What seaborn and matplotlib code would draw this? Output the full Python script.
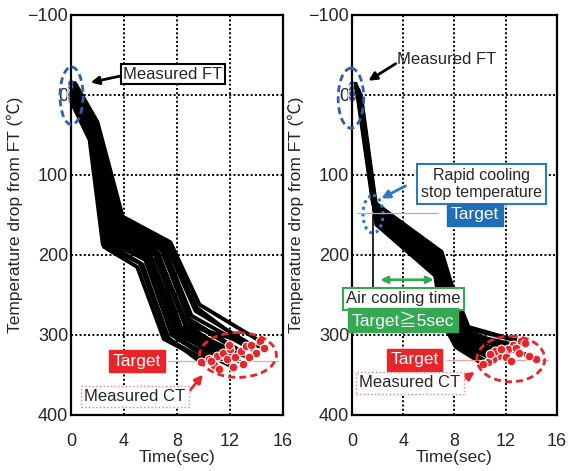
import numpy as np
import pandas as pd
import seaborn as sns
import matplotlib
matplotlib.use("Agg")
from matplotlib import pyplot as plt
from matplotlib.patches import Ellipse

# ---- data: time (sec) and temperature drop from FT (C) ----
# left panel: conventional cooling, one row per coil
left_t = [
    [0.0, 1.4, 2.4, 5.2, 7.2, 9.8],
    [0.1, 1.5, 2.5, 5.0, 7.0, 10.8],
    [0.1, 1.5, 2.5, 5.6, 7.6, 10.4],
    [0.1, 1.5, 2.6, 5.4, 7.4, 11.2],
    [0.1, 1.6, 2.6, 5.8, 7.8, 11.0],
    [0.2, 1.6, 2.9, 6.2, 8.0, 12.2],
    [0.2, 1.6, 2.8, 6.0, 8.1, 11.5],
    [0.2, 1.7, 2.9, 6.0, 7.9, 10.6],
    [0.2, 1.7, 3.0, 6.3, 8.3, 12.0],
    [0.2, 1.7, 3.1, 6.4, 8.4, 11.8],
    [0.2, 1.8, 3.2, 6.5, 8.6, 12.4],
    [0.2, 1.8, 3.2, 6.6, 8.7, 13.0],
    [0.3, 1.8, 3.3, 6.8, 8.9, 12.8],
    [0.3, 1.8, 3.4, 6.9, 9.0, 11.9],
    [0.3, 1.9, 3.5, 7.0, 9.1, 13.2],
    [0.3, 1.9, 3.6, 7.2, 9.4, 13.6],
    [0.3, 1.9, 3.7, 7.3, 9.5, 14.0],
    [0.3, 2.0, 3.9, 7.5, 9.7, 14.3],
    [0.1, 1.6, 2.7, 5.9, 8.2, 13.4],
    [0.2, 1.7, 3.0, 6.6, 8.8, 14.6],
]
left_T = [
    [8, 56, 187, 210, 302, 334],
    [6, 54, 190, 215, 305, 338],
    [4, 52, 180, 206, 300, 330],
    [5, 50, 184, 212, 306, 342],
    [2, 48, 175, 203, 296, 326],
    [0, 46, 176, 206, 305, 340],
    [0, 45, 168, 200, 292, 322],
    [-2, 44, 172, 204, 300, 333],
    [-3, 42, 170, 198, 290, 318],
    [-4, 41, 168, 200, 296, 330],
    [-5, 40, 165, 196, 286, 327],
    [-6, 39, 163, 198, 292, 336],
    [-7, 38, 162, 193, 280, 320],
    [-7, 37, 160, 195, 284, 312],
    [-8, 36, 158, 190, 276, 314],
    [-10, 35, 156, 188, 270, 312],
    [-11, 35, 154, 186, 266, 322],
    [-15, 34, 152, 184, 262, 308],
    [3, 47, 178, 205, 298, 328],
    [-1, 43, 170, 201, 288, 316],
]
# right panel: rapid cooling + air cooling
right_t = [
    [0.3, 1.6, 6.8, 7.6, 9.0, 13.2],
    [0.4, 1.7, 6.8, 7.7, 9.2, 14.4],
    [0.4, 1.7, 6.7, 7.6, 8.8, 12.6],
    [0.5, 1.8, 6.7, 7.5, 8.7, 12.2],
    [0.5, 1.8, 6.6, 7.4, 8.5, 11.8],
    [0.5, 1.8, 6.6, 7.3, 8.4, 11.4],
    [0.6, 1.9, 6.6, 7.2, 8.3, 11.0],
    [0.6, 1.9, 6.5, 7.1, 8.2, 10.6],
    [0.6, 1.9, 6.5, 7.0, 8.1, 10.2],
    [0.7, 2.0, 6.6, 7.3, 8.6, 12.8],
    [0.5, 1.8, 6.9, 7.8, 9.0, 13.8],
    [0.4, 1.7, 7.0, 7.8, 9.1, 13.5],
    [0.5, 1.8, 6.8, 7.5, 8.8, 12.0],
    [0.6, 1.9, 6.7, 7.3, 8.4, 11.2],
    [0.6, 2.0, 6.6, 7.2, 8.3, 12.4],
    [0.7, 2.0, 6.5, 7.1, 8.2, 11.6],
    [0.5, 1.7, 6.9, 7.7, 9.0, 13.0],
    [0.6, 1.8, 6.7, 7.4, 8.6, 10.8],
]
right_T = [
    [-14, 132, 198, 240, 292, 308],
    [-10, 136, 200, 245, 296, 330],
    [-8, 138, 203, 250, 298, 312],
    [-6, 142, 206, 255, 300, 318],
    [-4, 146, 210, 260, 303, 322],
    [-2, 150, 214, 265, 306, 326],
    [0, 154, 218, 270, 310, 330],
    [2, 158, 222, 276, 312, 334],
    [4, 162, 226, 282, 315, 336],
    [0, 152, 212, 262, 302, 316],
    [-6, 144, 204, 248, 300, 326],
    [-9, 134, 196, 238, 290, 310],
    [-5, 140, 205, 252, 301, 328],
    [-1, 148, 212, 264, 306, 320],
    [1, 156, 216, 268, 308, 332],
    [3, 160, 220, 274, 311, 318],
    [-7, 137, 201, 246, 297, 322],
    [-3, 147, 209, 258, 304, 324],
]
x_ticks = [0, 4, 8, 12, 16]
y_ticks = [-100, 0, 100, 200, 300, 400]

RED = "#e8262a"
BLUE = "#2f5fb0"
LBLUE = "#2e78c0"
GREEN = "#34a853"

sns.set_style("white")
plt.rcParams["font.family"] = ["Liberation Sans", "Noto Sans CJK JP", "DejaVu Sans"]


def to_frame(ts, Ts):
    rows = []
    for i, (tt, TT) in enumerate(zip(ts, Ts)):
        for a, b in zip(tt, TT):
            rows.append((i, a, b))
    return pd.DataFrame(rows, columns=["run", "t", "T"])


def draw_panel(ax, ts, Ts):
    df = to_frame(ts, Ts)
    sns.lineplot(data=df, x="t", y="T", units="run", estimator=None, sort=False,
                 color="black", lw=2.8, legend=False, ax=ax, zorder=3)
    starts = df.groupby("run").first()
    ends = df.groupby("run").last()
    sns.scatterplot(x=np.zeros(len(starts)), y=starts["T"].values, color=BLUE,
                    edgecolor="white", s=28, ax=ax, zorder=2, clip_on=False)
    sns.scatterplot(x=ends["t"].values, y=ends["T"].values, color=RED,
                    edgecolor="white", linewidth=0.8, s=40, ax=ax, zorder=4)
    ax.set_xlim(0, 16)
    ax.set_ylim(400, -100)
    ax.set_xticks(x_ticks)
    ax.set_yticks(y_ticks)
    ax.grid(True, color="black", linestyle=(0, (1, 1.2)), lw=1.4)
    for s in ax.spines.values():
        s.set_color("black")
        s.set_linewidth(1.6)
    ax.tick_params(direction="in", length=4, width=1.2, labelsize=13)
    ax.tick_params(axis="x", pad=13)
    ax.tick_params(axis="y", pad=2)
    ax.set_xlabel("Time(sec)", fontsize=12.5, labelpad=0)
    ax.set_ylabel("Temperature drop from FT (℃)", fontsize=12.5, labelpad=3)


fig = plt.figure(figsize=(5.74, 4.71), dpi=100)
ax1 = fig.add_axes([0.1237, 0.1189, 0.3693, 0.8493])
ax2 = fig.add_axes([0.6132, 0.1189, 0.3571, 0.8493])
draw_panel(ax1, left_t, left_T)
draw_panel(ax2, right_t, right_T)

# ---- left panel annotations ----
ax1.add_patch(Ellipse((0.04, 1), 1.74, 72, fill=False, ec=BLUE, lw=2,
                      ls=(0, (2.5, 1.5)), clip_on=False, zorder=5))
ax1.annotate("", xy=(1.28, -15), xytext=(4.1, -25),
             arrowprops=dict(arrowstyle="-|>", color="black", lw=2, mutation_scale=12))
ax1.text(7.7, -26, "Measured FT", ha="center", va="center", fontsize=12, zorder=6,
         bbox=dict(boxstyle="square,pad=0.15", fc="white", ec="black", lw=1.5))
ax1.plot([7.3, 15.6], [332, 332], color="#f4a0a0", lw=0.9, zorder=3, clip_on=False)
ax1.text(4.98, 333, "Target", ha="center", va="center", fontsize=12.5, color="white",
         zorder=6, bbox=dict(boxstyle="square,pad=0.2", fc=RED, ec=RED))
ax1.add_patch(Ellipse((12.6, 325), 5.8, 56, fill=False, ec=RED, lw=2,
                      ls=(0, (2.5, 1.5)), zorder=5, clip_on=False))
ax1.text(4.83, 377, "Measured CT", ha="center", va="center", fontsize=12, zorder=6,
         bbox=dict(boxstyle="square,pad=0.2", fc="white", ec="#f08080", lw=1, ls=":"))
ax1.annotate("", xy=(10.1, 347), xytext=(8.83, 372),
             arrowprops=dict(arrowstyle="-|>", color=RED, lw=2, mutation_scale=12))

# ---- right panel annotations ----
ax2.add_patch(Ellipse((-0.08, 4), 2.0, 75, fill=False, ec=BLUE, lw=2,
                      ls=(0, (2.5, 1.5)), clip_on=False, zorder=5))
ax2.annotate("", xy=(1.1, -16), xytext=(3.6, -41),
             arrowprops=dict(arrowstyle="-|>", color="black", lw=2, mutation_scale=12))
ax2.text(7.4, -44, "Measured FT", ha="center", va="center", fontsize=12, zorder=6)
ax2.text(10.1, 111, "Rapid cooling\nstop temperature", ha="center", va="center",
         fontsize=11.5, linespacing=1.15, zorder=6,
         bbox=dict(boxstyle="square,pad=0.25", fc="white", ec=LBLUE, lw=1.5))
ax2.annotate("", xy=(2.1, 131), xytext=(4.37, 112),
             arrowprops=dict(arrowstyle="-|>", color=LBLUE, lw=2, mutation_scale=12))
ax2.add_patch(Ellipse((1.64, 149), 1.56, 47, fill=False, ec=LBLUE, lw=2.2,
                      ls=(0, (1, 1.2)), zorder=5))
ax2.plot([0.4, 6.7], [148, 148], color="#8fb8e0", lw=0.9, zorder=5)
ax2.text(9.6, 150, "Target", ha="center", va="center", fontsize=12.5, color="white",
         zorder=6, bbox=dict(boxstyle="square,pad=0.2", fc="#1f6fb8", ec="#1f6fb8"))
ax2.plot([1.65, 1.65], [150, 250], color="black", lw=1.2, zorder=2)
ax2.plot([6.6, 6.6], [222, 250], color="black", lw=1.2, zorder=2)
ax2.annotate("", xy=(6.6, 231), xytext=(2.0, 231),
             arrowprops=dict(arrowstyle="<|-|>", color=GREEN, lw=2, mutation_scale=10))
ax2.text(4.0, 255, "Air cooling time", ha="center", va="center", fontsize=12,
         zorder=6, bbox=dict(boxstyle="square,pad=0.2", fc="white", ec=GREEN, lw=1.5))
ax2.text(4.0, 281, "Target≧5sec", ha="center", va="center", fontsize=12.5, color="white",
         zorder=6, bbox=dict(boxstyle="square,pad=0.2", fc=GREEN, ec=GREEN))
ax2.plot([7.4, 15.3], [331, 331], color="#f4a0a0", lw=0.9, zorder=3, clip_on=False)
ax2.text(4.9, 331, "Target", ha="center", va="center", fontsize=12.5, color="white",
         zorder=6, bbox=dict(boxstyle="square,pad=0.2", fc=RED, ec=RED))
ax2.add_patch(Ellipse((12.4, 330), 5.3, 57, fill=False, ec=RED, lw=2,
                      ls=(0, (2.5, 1.5)), zorder=5))
ax2.text(4.5, 360, "Measured CT", ha="center", va="center", fontsize=12, zorder=6,
         bbox=dict(boxstyle="square,pad=0.2", fc="white", ec="#f08080", lw=1, ls=":"))
ax2.annotate("", xy=(9.76, 344), xytext=(8.7, 356),
             arrowprops=dict(arrowstyle="-|>", color=RED, lw=2, mutation_scale=12))

fig.savefig("out.png", dpi=100)
